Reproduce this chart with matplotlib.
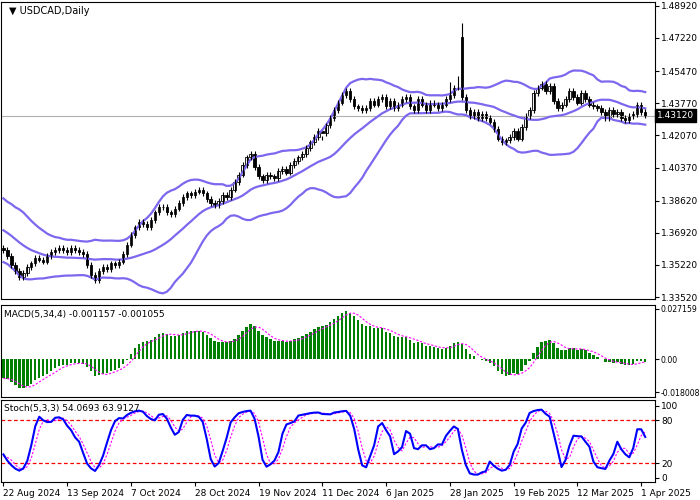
import matplotlib
matplotlib.use("Agg")
import matplotlib.pyplot as plt
import numpy as np
import pandas as pd

# warm-up closes before the visible window (needed for indicator history)
warmup = [1.376,1.378,1.380,1.379,1.381,1.383,1.385,1.384,1.386,1.387,
          1.386,1.385,1.387,1.388,
          1.386,1.385,1.383,1.384,1.381,1.379,1.378,1.376,1.373,1.371,
          1.369,1.368,1.366,1.365,1.363,1.364,1.362,1.361,1.362,1.361]
closes = [1.360,1.357,1.352,1.349,1.346,1.348,1.351,1.353,1.356,1.355,
          1.354,1.357,1.359,1.360,1.361,1.360,1.359,1.361,1.360,1.359,
          1.358,1.352,1.347,1.344,1.349,1.351,1.350,1.353,1.352,1.354,
          1.358,1.363,1.368,1.372,1.375,1.374,1.372,1.376,1.380,1.383,
          1.383,1.380,1.379,1.382,1.385,1.388,1.390,1.389,1.391,1.392,
          1.390,1.387,1.385,1.384,1.386,1.389,1.388,1.392,1.396,1.400,
          1.405,1.409,1.411,1.404,1.399,1.397,1.400,1.399,1.398,1.402,
          1.403,1.401,1.405,1.407,1.409,1.411,1.414,1.417,1.420,1.423,
          1.422,1.426,1.430,1.434,1.438,1.442,1.444,1.440,1.436,1.435,
          1.434,1.435,1.439,1.437,1.440,1.441,1.436,1.439,1.435,1.437,
          1.440,1.441,1.436,1.434,1.440,1.437,1.434,1.438,1.437,1.435,
          1.437,1.440,1.442,1.446,1.446,1.441,1.434,1.431,1.433,1.430,
          1.432,1.430,1.428,1.424,1.419,1.417,1.418,1.420,1.423,1.419,
          1.425,1.431,1.434,1.443,1.446,1.448,1.444,1.447,1.439,1.435,
          1.437,1.440,1.444,1.441,1.438,1.443,1.440,1.437,1.436,1.435,
          1.433,1.430,1.434,1.432,1.433,1.430,1.429,1.431,1.432,1.437,
          1.433,1.4312]
spike_open = {115: 1.4725}
spike_high = {115: 1.480, 114: 1.452, 80: 1.4185, 112: 1.449}
date_labels = ["22 Aug 2024","13 Sep 2024","7 Oct 2024","28 Oct 2024","19 Nov 2024",
               "11 Dec 2024","6 Jan 2025","28 Jan 2025","19 Feb 2025","12 Mar 2025","1 Apr 2025"]
price_ticks = [1.48920,1.47220,1.45470,1.43770,1.42070,1.40370,1.38620,1.36920,1.35220,1.33520]
last_price = 1.43120

allc = pd.Series(warmup + closes)
nw = len(warmup)
opens_all = allc.shift(1).bfill()
n = len(closes)
x = np.arange(n)
o = opens_all.values[nw:].copy()
c = allc.values[nw:]
for k, v in spike_open.items():
    o[k] = v
h = np.maximum(o, c) + 0.0015
l = np.minimum(o, c) - 0.0015
for k, v in spike_high.items():
    h[k] = v

mid = allc.rolling(20).mean().values[nw:]
sd = allc.rolling(20).std(ddof=0).values[nw:]
up, lo = mid + 2*sd, mid - 2*sd

macd_all = allc.ewm(span=5, adjust=False).mean() - allc.ewm(span=34, adjust=False).mean()
sig_all = macd_all.rolling(4).mean()
macd = macd_all.values[nw:]; sig = sig_all.values[nw:]

hh = pd.Series(list(allc.values[:nw] + 0.0015) + list(h))
ll = pd.Series(list(allc.values[:nw] - 0.0015) + list(l))
hn = hh.rolling(5).max(); ln = ll.rolling(5).min()
num = (allc - ln).rolling(3).sum(); den = (hn - ln).rolling(3).sum()
k_all = 100*num/den
d_all = k_all.rolling(3).mean()
sk = k_all.values[nw:]; sdd = d_all.values[nw:]

fs = 6.5
fig = plt.figure(figsize=(7,5), dpi=100)
ax = fig.add_axes([0.002, 0.402, 0.934, 0.594])
ax2 = fig.add_axes([0.002, 0.206, 0.934, 0.184])
ax3 = fig.add_axes([0.002, 0.036, 0.934, 0.164])
xl = (-0.5, n + 1.5)
for a in (ax, ax2, ax3):
    a.set_xlim(*xl)
    a.yaxis.tick_right()
    a.tick_params(axis='y', labelsize=fs, length=3, pad=1.5)
    a.tick_params(axis='x', bottom=False, labelbottom=False)
    for s in a.spines.values():
        s.set_linewidth(0.8)

# main
ax.axhline(last_price, color='#b0b0b0', lw=0.8)
ax.plot(x, up, color='#7B68EE', lw=1.6)
ax.plot(x, mid, color='#7B68EE', lw=1.6)
ax.plot(x, lo, color='#7B68EE', lw=1.6)
ax.vlines(x, l, h, color='black', lw=0.8)
bull = c >= o
ax.bar(x[bull], (c-o)[bull], bottom=o[bull], width=0.6, color='white', edgecolor='black', linewidth=0.6)
ax.bar(x[~bull], (o-c)[~bull], bottom=c[~bull], width=0.6, color='black', edgecolor='black', linewidth=0.6)
ax.set_ylim(1.3342, 1.4912)
ax.set_yticks(price_ticks)
ax.set_yticklabels([f"{t:.5f}" for t in price_ticks])
ax.text(0.012, 0.985, "\u25bc USDCAD,Daily", transform=ax.transAxes, fontsize=7, va='top')
ax.text(1.003, last_price, f"{last_price:.5f}", transform=ax.get_yaxis_transform(), fontsize=fs,
        va='center', ha='left', color='white', bbox=dict(boxstyle='square,pad=0.2', fc='black', ec='black'))

# MACD
ax2.bar(x, macd, width=0.6, color='green')
ax2.plot(x, sig, color='magenta', lw=0.8, ls=(0,(2,1.5)))
ax2.set_ylim(-0.0205, 0.0292)
ax2.set_yticks([0.027159, 0.0, -0.018008])
ax2.set_yticklabels(["0.027159", "0.00", "-0.018008"])
ax2.tick_params(axis='y', labelsize=5.6, pad=1)
ax2.text(0.004, 0.95, "MACD(5,34,4) -0.001157 -0.001055", transform=ax2.transAxes, fontsize=fs, va='top')

# Stoch
ax3.axhline(80, color='red', ls=(0,(3,2)), lw=0.9)
ax3.axhline(20, color='red', ls=(0,(3,2)), lw=0.9)
ax3.plot(x, sdd, color='magenta', lw=0.8, ls=(0,(2,1.5)))
ax3.plot(x, sk, color='blue', lw=1.5)
ax3.set_ylim(-6, 108)
ax3.set_yticks([100, 80, 20, 0])
ax3.text(0.004, 0.95, "Stoch(5,3,3) 54.0693 63.9127", transform=ax3.transAxes, fontsize=fs, va='top')
ax3.tick_params(axis='x', bottom=True, labelbottom=True, labelsize=fs, length=3, pad=2)
ax3.set_xticks(np.arange(len(date_labels))*16)
ax3.set_xticklabels(date_labels, ha='left')

fig.savefig("out.png", dpi=100)
